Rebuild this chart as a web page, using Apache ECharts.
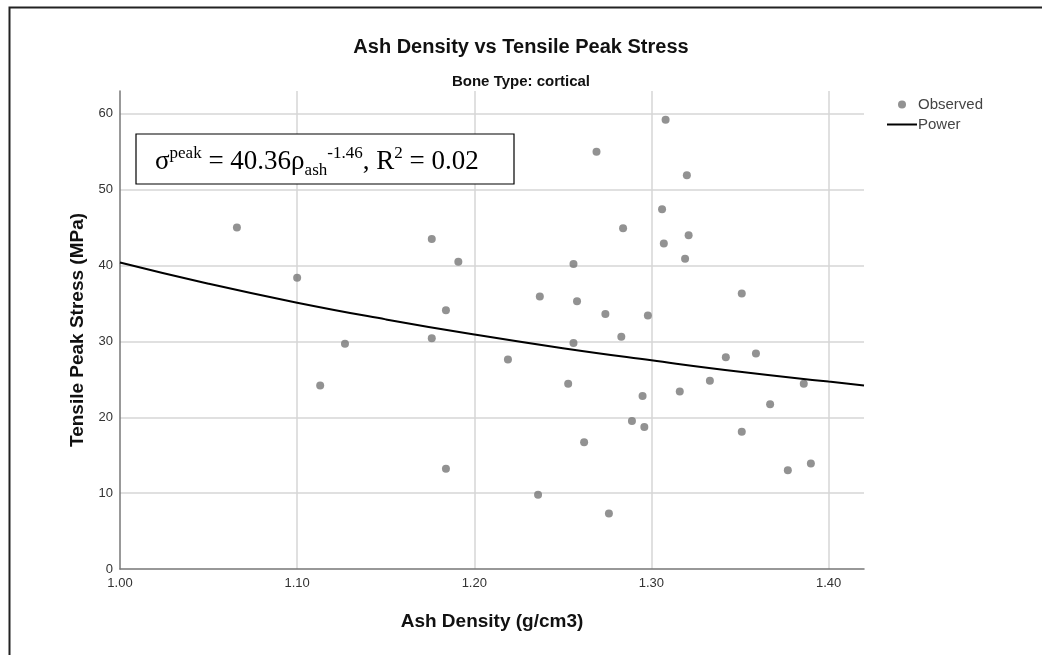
<!DOCTYPE html>
<html>
<head>
<meta charset="utf-8">
<script src="https://cdn.jsdelivr.net/npm/echarts@6/dist/echarts.min.js"></script>
<style>
html,body{margin:0;padding:0;background:#fff;}
#chart{width:1042px;height:655px;}
</style>
</head>
<body>
<div id="chart"></div>
<script>
// Observed points: ash density (g/cm3) and tensile peak stress (MPa)
const ashDensity = [
  1.066, 1.100, 1.113, 1.127, 1.176, 1.176, 1.184, 1.184, 1.191,
  1.308, 1.269, 1.320, 1.306, 1.284, 1.321, 1.307, 1.319, 1.256, 1.351,
  1.237, 1.258, 1.274, 1.298, 1.283, 1.256, 1.219, 1.342, 1.359,
  1.253, 1.295, 1.316, 1.333, 1.386, 1.367, 1.289, 1.296, 1.351, 1.262,
  1.377, 1.390, 1.236, 1.276
];
const peakStress = [
  45.0, 38.4, 24.2, 29.7, 43.5, 30.4, 34.1, 13.2, 40.5,
  59.2, 55.0, 51.9, 47.4, 44.9, 44.0, 42.9, 40.9, 40.2, 36.3,
  35.9, 35.3, 33.6, 33.4, 30.6, 29.8, 27.6, 27.9, 28.4,
  24.4, 22.8, 23.4, 24.8, 24.4, 21.7, 19.5, 18.7, 18.1, 16.7,
  13.0, 13.9, 9.8, 7.3
];
// Fitted power curve
const curveX = [1.00, 1.05, 1.10, 1.15, 1.20, 1.25, 1.30, 1.35, 1.40, 1.42];
const curveY = [40.4, 37.6, 35.1, 32.9, 30.9, 29.1, 27.5, 26.0, 24.7, 24.2];
const xTicks = ['1.00', '1.10', '1.20', '1.30', '1.40'];
const yTicks = ['0', '10', '20', '30', '40', '50', '60'];

const obs = ashDensity.map((x, i) => [x, peakStress[i]]);
const curve = curveX.map((x, i) => [x, curveY[i]]);

const chart = echarts.init(document.getElementById('chart'));
const font = 'Arial, "Liberation Sans", sans-serif';
const serif = '"Liberation Serif", "Times New Roman", serif';
chart.setOption({
  animation: false,
  backgroundColor: '#fff',
  title: [
    {text: 'Ash Density vs Tensile Peak Stress', left: 'center', top: 32,
     textStyle: {fontFamily: font, fontSize: 20, fontWeight: 'bold', color: '#111'}},
    {text: 'Bone Type: cortical', left: 'center', top: 69,
     textStyle: {fontFamily: font, fontSize: 15, fontWeight: 'bold', color: '#111'}}
  ],
  legend: {
    orient: 'vertical', left: 882, top: 92, itemWidth: 30, itemHeight: 8, itemGap: 5,
    symbolKeepAspect: true,
    textStyle: {fontFamily: font, fontSize: 15, color: '#444', padding: [0,0,0,-4]},
    data: [{name: 'Observed', icon: 'circle'}, {name: 'Power', icon: 'path://M0 0H30V2H0Z'}]
  },
  grid: {left: 120, right: 178, top: 91, bottom: 86},
  xAxis: {
    type: 'value', min: 1.0, max: 1.42, interval: 0.1,
    name: 'Ash Density (g/cm3)', nameLocation: 'middle', nameGap: 43,
    nameTextStyle: {fontFamily: font, fontSize: 19, fontWeight: 'bold', color: '#111'},
    axisLine: {lineStyle: {color: '#777', width: 1.5}},
    axisTick: {show: false},
    axisLabel: {fontFamily: font, fontSize: 13, color: '#333', margin: 8,
      formatter: v => { const s = v.toFixed(2); return xTicks.indexOf(s) >= 0 ? s : ''; }},
    splitLine: {show: true, showMinLine: false, showMaxLine: false, lineStyle: {color: '#d6d6d6', width: 1.5}}
  },
  yAxis: {
    type: 'value', min: 0, max: 63, interval: 10,
    name: 'Tensile Peak Stress (MPa)', nameLocation: 'middle', nameGap: 27,
    nameTextStyle: {fontFamily: font, fontSize: 19, fontWeight: 'bold', color: '#111'},
    axisLine: {show: true, lineStyle: {color: '#777', width: 1.5}},
    axisTick: {show: false},
    axisLabel: {fontFamily: font, fontSize: 13, color: '#333', margin: 7,
      formatter: v => { const s = String(Math.round(v)); return (Math.abs(v - Math.round(v)) < 1e-6 && yTicks.indexOf(s) >= 0) ? s : ''; }},
    splitLine: {show: true, showMinLine: false, showMaxLine: false, lineStyle: {color: '#d6d6d6', width: 1.5}}
  },
  series: [
    {name: 'Observed', type: 'scatter', data: obs, symbolSize: 8,
     itemStyle: {color: '#777777'}, z: 3},
    {name: 'Power', type: 'line', data: curve, smooth: true, showSymbol: false, symbol: 'none',
     lineStyle: {color: '#000', width: 2}, itemStyle: {color: '#000'}, z: 4}
  ],
  graphic: [
    {type: 'rect', left: 7, top: 5, z: 100, silent: true,
     shape: {x: 0, y: 0, width: 1060, height: 680},
     style: {fill: 'none', stroke: '#222', lineWidth: 2}},
    {type: 'rect', z: 50, shape: {x: 136, y: 134, width: 378, height: 50},
     style: {fill: '#fff', stroke: '#000', lineWidth: 1.2}},
    {type: 'text', z: 51, x: 155, y: 145,
     style: {
       text: '{b|σ}{sup|peak}{b| = 40.36ρ}{sub|ash}{sup|-1.46}{b|, R}{sup|2}{b| = 0.02}',
       rich: {
         b: {fontFamily: serif, fontSize: 27, lineHeight: 34, fill: '#000', color: '#000'},
         sup: {fontFamily: serif, fontSize: 17, lineHeight: 19, verticalAlign: 'top', fill: '#000', color: '#000'},
         sub: {fontFamily: serif, fontSize: 17, lineHeight: 19, verticalAlign: 'bottom', fill: '#000', color: '#000'}
       }
     }}
  ]
});
</script>
</body>
</html>
